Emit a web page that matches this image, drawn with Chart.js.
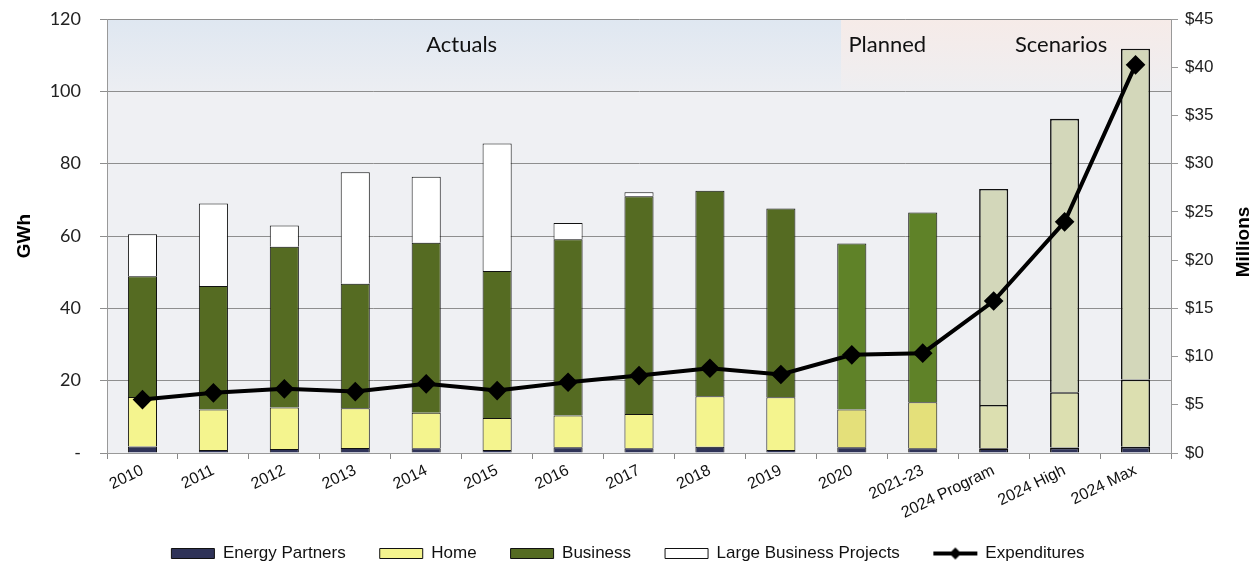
<!DOCTYPE html>
<html>
<head>
<meta charset="utf-8">
<script src="https://cdn.jsdelivr.net/npm/chart.js@4"></script>
<style>
  html, body { margin: 0; padding: 0; background: #fff; }
  #wrap { width: 1256px; height: 575px; }
</style>
</head>
<body>
<div id="wrap"><canvas id="gwhChart" width="1256" height="575"></canvas></div>
<script>
// data
const categories = ['2010', '2011', '2012', '2013', '2014', '2015', '2016', '2017', '2018', '2019',
  '2020', '2021-23', '2024 Program', '2024 High', '2024 Max'];
const energyPartners = [1.8, 0.8, 1.1, 1.4, 1.3, 0.8, 1.6, 1.3, 1.7, 0.8, 1.6, 1.3, 1.3, 1.5, 1.7];
const home = [13.7, 11.2, 11.5, 11.0, 9.8, 8.9, 8.8, 9.5, 14.0, 14.6, 10.4, 12.7, 12.0, 15.3, 18.6];
const business = [33.4, 34.2, 44.4, 34.4, 47.0, 40.6, 48.7, 60.2, 56.8, 52.2, 45.9, 52.5, 59.7, 75.6, 91.5];
const largeBusiness = [11.6, 22.8, 5.9, 30.8, 18.3, 35.3, 4.5, 1.1, null, null, null, null, null, null, null];
const expenditures = [5.54, 6.24, 6.65, 6.37, 7.17, 6.47, 7.34, 8.03, 8.79, 8.14, 10.18, 10.35, 15.76, 23.97, 40.25];
const gwhTicks = [0, 20, 40, 60, 80, 100, 120];
const dollarTicks = [0, 5, 10, 15, 20, 25, 30, 35, 40, 45];
const periodLabels = [['Actuals', 4.5], ['Planned', 10.5], ['Scenarios', 12.95]];

// colours per period: actuals, planned, scenarios
const homeColors = categories.map((c, i) => i < 10 ? '#f4f48e' : i < 12 ? '#e4e07a' : '#dcdfb0');
const businessColors = categories.map((c, i) => i < 10 ? '#556b22' : i < 12 ? '#5f8228' : '#d3d7ba');
const barBorders = categories.map((c, i) => i < 12 ? 1 : 1.6);

// legend swatch for the line with diamond
const lineSwatch = document.createElement('canvas');
lineSwatch.width = 46; lineSwatch.height = 14;
(function () {
  const c = lineSwatch.getContext('2d');
  c.strokeStyle = '#000'; c.lineWidth = 4;
  c.beginPath(); c.moveTo(1, 7); c.lineTo(45, 7); c.stroke();
  c.fillStyle = '#000';
  c.beginPath(); c.moveTo(23, 1); c.lineTo(29, 7); c.lineTo(23, 13); c.lineTo(17, 7); c.closePath(); c.fill();
})();

const backdrop = {
  id: 'backdrop',
  beforeDraw(chart) {
    const { ctx, chartArea: a, scales } = chart;
    ctx.save();
    ctx.fillStyle = '#eff0f3';
    ctx.fillRect(a.left, a.top, a.right - a.left, a.bottom - a.top);
    const bandBottom = scales.y.getPixelForValue(100);
    const split = scales.x.getPixelForValue(9.85);
    let g = ctx.createLinearGradient(0, a.top, 0, bandBottom);
    g.addColorStop(0, '#dfe7f1');
    g.addColorStop(1, '#eceef2');
    ctx.fillStyle = g;
    ctx.fillRect(a.left, a.top, split - a.left, bandBottom - a.top);
    g = ctx.createLinearGradient(0, a.top, 0, bandBottom);
    g.addColorStop(0, '#f6ebe8');
    g.addColorStop(1, '#eeeef1');
    ctx.fillStyle = g;
    ctx.fillRect(split, a.top, a.right - split, bandBottom - a.top);
    ctx.restore();
  },
  afterDraw(chart) {
    const { ctx, chartArea: a, scales } = chart;
    ctx.save();
    ctx.fillStyle = '#111';
    ctx.font = '22px Lato';
    ctx.textAlign = 'center';
    ctx.textBaseline = 'middle';
    periodLabels.forEach(([txt, pos]) => {
      ctx.fillText(txt, scales.x.getPixelForValue(pos), 45);
    });
    // right axis title reads bottom to top
    ctx.translate(1244, (a.top + a.bottom) / 2 + 6);
    ctx.rotate(-Math.PI / 2);
    ctx.font = 'bold 19px "Liberation Sans"';
    ctx.fillStyle = '#000';
    ctx.fillText('Millions', 0, 0);
    ctx.restore();
  },
  beforeLayout(chart) {
    const lg = chart.legend;
    if (lg && !lg._patched) {
      const fit = lg.fit;
      lg.fit = function () { fit.call(this); this.height = 64; };
      lg._patched = true;
    }
  }
};

new Chart(document.getElementById('gwhChart').getContext('2d'), {
  type: 'bar',
  data: {
    labels: categories,
    datasets: [
      { label: 'Energy Partners', data: energyPartners, backgroundColor: '#2f3358', borderColor: '#111', borderWidth: barBorders, yAxisID: 'y', pointStyle: 'rect', order: 1 },
      { label: 'Home', data: home, backgroundColor: homeColors, borderColor: '#111', borderWidth: barBorders, yAxisID: 'y', pointStyle: 'rect', order: 1 },
      { label: 'Business', data: business, backgroundColor: businessColors, borderColor: '#111', borderWidth: barBorders, yAxisID: 'y', pointStyle: 'rect', order: 1 },
      { label: 'Large Business Projects', data: largeBusiness, backgroundColor: '#ffffff', borderColor: '#111', borderWidth: 1, yAxisID: 'y', pointStyle: 'rect', order: 1 },
      {
        type: 'line', label: 'Expenditures', data: expenditures, yAxisID: 'y1', order: 0,
        borderColor: '#000', backgroundColor: '#000', borderWidth: 4,
        pointStyle: 'rectRot', pointRadius: 7, pointHoverRadius: 7, tension: 0
      }
    ]
  },
  options: {
    responsive: false,
    animation: false,
    layout: { autoPadding: false, padding: { top: 19, left: 0, right: 0, bottom: 0 } },
    datasets: { bar: { barPercentage: 0.41, categoryPercentage: 1 } },
    plugins: {
      tooltip: { enabled: false },
      legend: {
        position: 'bottom',
        labels: {
          usePointStyle: true,
          pointStyleWidth: 43,
          boxWidth: 43,
          boxHeight: 10,
          padding: 34,
          color: '#111',
          font: { family: '"Liberation Sans"', size: 17 },
          sort: (a, b) => a.datasetIndex - b.datasetIndex,
          generateLabels(chart) {
            const items = Chart.defaults.plugins.legend.labels.generateLabels(chart);
            items.forEach(it => {
              if (it.text === 'Expenditures') it.pointStyle = lineSwatch;
              else { it.pointStyle = 'rect'; it.lineWidth = 1; it.strokeStyle = '#111'; }
            });
            return items;
          }
        }
      }
    },
    scales: {
      x: {
        stacked: true,
        grid: { display: true, drawOnChartArea: false, drawTicks: true, tickLength: 6, color: '#888' },
        border: { color: '#999' },
        ticks: { minRotation: 26, maxRotation: 26, padding: 2, color: '#111', font: { family: '"Liberation Sans"', size: 16 } },
        afterFit(scale) {
          scale.height = 58;
          scale._computeLabelArea = () => undefined; // let rotated labels run past the box
        }
      },
      y: {
        stacked: true,
        position: 'left',
        min: 0, max: 120,
        afterBuildTicks(scale) { scale.ticks = gwhTicks.map(v => ({ value: v })); },
        grid: { color: '#8e8e8e', lineWidth: 1, tickLength: 7 },
        border: { color: '#999' },
        ticks: {
          padding: 19, color: '#222',
          font: { family: 'Lato', size: 18 },
          callback: v => v === 0 ? '-' : v
        },
        title: { display: true, text: 'GWh', color: '#000', font: { family: '"Liberation Sans"', size: 19, weight: 'bold' }, padding: { top: 13, bottom: 0 } },
        afterFit(scale) {
          scale.width = 107;
          scale.paddingTop = 0; scale.paddingBottom = 0;
        }
      },
      y1: {
        position: 'right',
        min: 0, max: 45,
        afterBuildTicks(scale) { scale.ticks = dollarTicks.map(v => ({ value: v })); },
        grid: { drawOnChartArea: false, color: '#999', tickLength: 7 },
        border: { color: '#999' },
        ticks: {
          padding: 7, color: '#222',
          font: { family: '"Liberation Sans"', size: 17 },
          callback: v => '$' + v
        },
        afterFit(scale) {
          scale.width = 85;
          scale.paddingTop = 0; scale.paddingBottom = 0;
        }
      }
    }
  },
  plugins: [backdrop]
});
</script>
</body>
</html>
